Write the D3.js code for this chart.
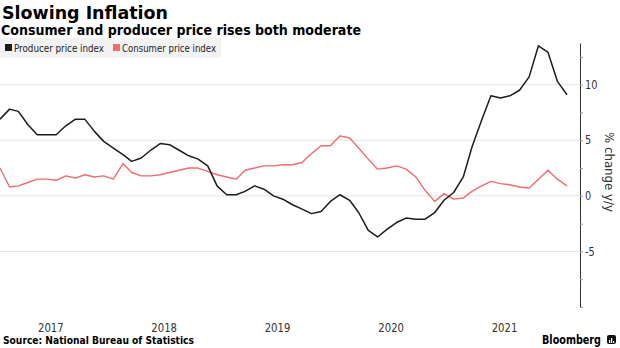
<!DOCTYPE html>
<html>
<head>
<meta charset="utf-8">
<script src="https://cdn.jsdelivr.net/npm/d3@7"></script>
<style>
  html, body { margin: 0; padding: 0; background: #fff; }
  svg { display: block; font-family: "DejaVu Sans", Verdana, sans-serif; }
</style>
</head>
<body>
<div id="chart"></div>
<script>
// monthly year-on-year % change, Jan 2017 .. Jan 2022
const startMonth = new Date(2017, 0, 1);

const ppi = [
    6.9, 7.8, 7.6, 6.4, 5.5, 5.5, 5.5, 6.3, 6.9, 6.9, 5.8, 4.9,
    4.3, 3.7, 3.1, 3.4, 4.1, 4.7, 4.6, 4.1, 3.6, 3.3, 2.7, 0.9,
    0.1, 0.1, 0.4, 0.9, 0.6, 0.0, -0.3, -0.8, -1.2, -1.6, -1.4, -0.5,
    0.1, -0.4, -1.5, -3.1, -3.7, -3.0, -2.4, -2.0, -2.1, -2.1, -1.5, -0.4,
    0.3, 1.7, 4.4, 6.8, 9.0, 8.8, 9.0, 9.5, 10.7, 13.5, 12.9, 10.3,
    9.1
];

const cpi = [
    2.5, 0.8, 0.9, 1.2, 1.5, 1.5, 1.4, 1.8, 1.6, 1.9, 1.7, 1.8,
    1.5, 2.9, 2.1, 1.8, 1.8, 1.9, 2.1, 2.3, 2.5, 2.5, 2.2, 1.9,
    1.7, 1.5, 2.3, 2.5, 2.7, 2.7, 2.8, 2.8, 3.0, 3.8, 4.5, 4.5,
    5.4, 5.2, 4.3, 3.3, 2.4, 2.5, 2.7, 2.4, 1.7, 0.5, -0.5, 0.2,
    -0.3, -0.2, 0.4, 0.9, 1.3, 1.1, 1.0, 0.8, 0.7, 1.5, 2.3, 1.5,
    0.9
];

const seriesNames = ["Producer price index", "Consumer price index"];
const yearLabels = [2017, 2018, 2019, 2020, 2021];
const yLabelTicks = [-5, 0, 5, 10];
const yMinorTicks = [-10, -7.5, -5, -2.5, 0, 2.5, 5, 7.5, 10, 12.5];

const ppiColor = "#1c1c1c";
const cpiColor = "#f46b6b";

// stretch or squeeze a text to a given pixel width
function fitWidth(sel, w) {
    sel.attr("textLength", w).attr("lengthAdjust", "spacingAndGlyphs");
}

function squeeze(sel, k) {
    sel.each(function () {
        const len = this.getComputedTextLength();
        d3.select(this).attr("textLength", len * k).attr("lengthAdjust", "spacingAndGlyphs");
    });
}

function drawChart() {
    const width = 620;
    const height = 348;
    const plot = { left: 0, right: 567, axisX: 580, top: 43, bottom: 307 };

    const svg = d3.select("#chart").append("svg")
        .attr("width", width)
        .attr("height", height);

    const xScale = d3.scaleTime()
        .domain([startMonth, d3.timeMonth.offset(startMonth, ppi.length - 1)])
        .range([plot.left, plot.right]);

    const yScale = d3.scaleLinear()
        .domain([-10, 13.75])
        .range([plot.bottom, plot.top]);

    // gridlines
    svg.append("g")
        .selectAll("line")
        .data(yLabelTicks)
        .join("line")
        .attr("x1", 0)
        .attr("x2", plot.axisX)
        .attr("y1", d => yScale(d))
        .attr("y2", d => yScale(d))
        .attr("stroke", "#e4e4e4")
        .attr("stroke-width", 1);

    // right axis
    const yAxis = svg.append("g")
        .attr("transform", `translate(${plot.axisX},0)`)
        .call(d3.axisRight(yScale)
            .tickValues(yMinorTicks)
            .tickSize(3)
            .tickSizeOuter(0)
            .tickFormat(d => yLabelTicks.includes(d) ? String(d) : ""));

    yAxis.select(".domain").attr("stroke", "#333").attr("stroke-width", 1);
    yAxis.selectAll(".tick line").attr("stroke", "#999");
    yAxis.selectAll(".tick text")
        .attr("x", 5)
        .attr("fill", "#333")
        .attr("font-size", 11.5)
        .attr("font-family", "DejaVu Sans");
    squeeze(yAxis.selectAll(".tick text").filter(d => yLabelTicks.includes(d)), 0.85);

    svg.append("text")
        .attr("transform", `translate(605,172) rotate(90)`)
        .attr("text-anchor", "middle")
        .attr("font-size", 12.5)
        .attr("fill", "#333")
        .text("% change y/y")
        .call(fitWidth, 80);

    // year labels near the middle of each year
    const xAxis = svg.append("g")
        .attr("transform", "translate(0,320)")
        .call(d3.axisBottom(xScale)
            .tickValues(yearLabels.map(yr => new Date(yr, 5, 12)))
            .tickSize(0)
            .tickFormat(d3.timeFormat("%Y")));

    xAxis.select(".domain").remove();
    xAxis.selectAll(".tick text")
        .attr("fill", "#333")
        .attr("font-size", 12)
        .attr("font-family", "DejaVu Sans");
    squeeze(xAxis.selectAll(".tick text"), 0.84);

    // series lines
    const line = d3.line()
        .x((d, i) => xScale(d3.timeMonth.offset(startMonth, i)))
        .y(d => yScale(d));

    svg.append("path")
        .datum(cpi)
        .attr("fill", "none")
        .attr("stroke", cpiColor)
        .attr("stroke-width", 1.4)
        .attr("stroke-linejoin", "round")
        .attr("d", line);

    svg.append("path")
        .datum(ppi)
        .attr("fill", "none")
        .attr("stroke", ppiColor)
        .attr("stroke-width", 1.5)
        .attr("stroke-linejoin", "round")
        .attr("d", line);

    // titles
    svg.append("text")
        .attr("x", 2)
        .attr("y", 18.5)
        .attr("font-size", 18)
        .attr("font-weight", "bold")
        .attr("fill", "#000")
        .text("Slowing Inflation")
        .call(fitWidth, 166);

    svg.append("text")
        .attr("x", 1)
        .attr("y", 35)
        .attr("font-size", 13.5)
        .attr("font-weight", "bold")
        .attr("fill", "#000")
        .text("Consumer and producer price rises both moderate")
        .call(fitWidth, 360);

    // legend
    const legend = svg.append("g");
    legend.append("rect")
        .attr("x", 0)
        .attr("y", 38)
        .attr("width", 221)
        .attr("height", 20)
        .attr("fill", "#f2f2f2");

    const legendItems = [
        { name: seriesNames[0], color: ppiColor, x: 5, w: 90 },
        { name: seriesNames[1], color: cpiColor, x: 113, w: 94 }
    ];

    const items = legend.selectAll("g.item")
        .data(legendItems)
        .join("g")
        .attr("class", "item");

    items.append("rect")
        .attr("x", d => d.x)
        .attr("y", 44)
        .attr("width", 7)
        .attr("height", 7)
        .attr("fill", d => d.color);

    items.append("text")
        .attr("x", d => d.x + 9)
        .attr("y", 52)
        .attr("font-size", 10.5)
        .attr("fill", "#222")
        .text(d => d.name)
        .each(function (d) { fitWidth(d3.select(this), d.w); });

    // footer
    svg.append("text")
        .attr("x", 3)
        .attr("y", 344)
        .attr("font-size", 10.5)
        .attr("font-weight", "bold")
        .attr("fill", "#000")
        .text("Source: National Bureau of Statistics")
        .call(fitWidth, 191);

    svg.append("text")
        .attr("x", 542)
        .attr("y", 343.5)
        .attr("font-size", 12)
        .attr("font-weight", "bold")
        .attr("fill", "#000")
        .text("Bloomberg")
        .call(fitWidth, 59);

    const logo = svg.append("g").attr("transform", "translate(607,335)");
    logo.append("rect")
        .attr("width", 9)
        .attr("height", 9)
        .attr("rx", 2)
        .attr("fill", "#111");
    logo.selectAll("rect.bar")
        .data([3, 5, 2])
        .join("rect")
        .attr("class", "bar")
        .attr("x", (d, i) => 2 + i * 2)
        .attr("y", d => 8 - d)
        .attr("width", 1.2)
        .attr("height", d => d)
        .attr("fill", "#fff");
}

drawChart();
</script>
</body>
</html>
